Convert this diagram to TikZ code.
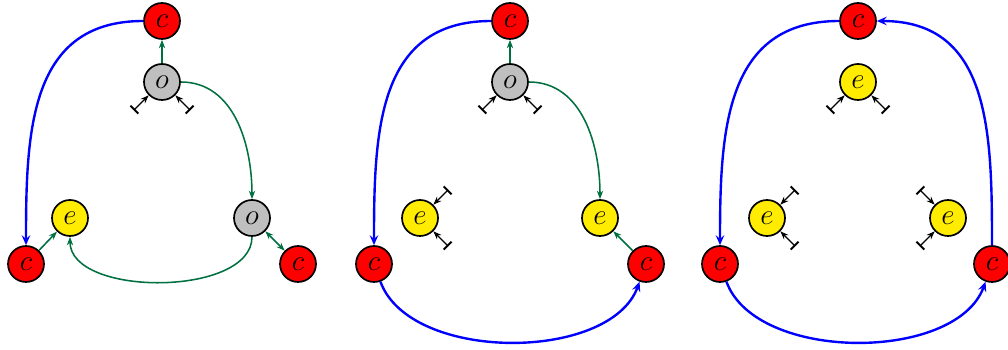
\documentclass[tikz,border=0pt]{standalone}
\usepackage{amsmath}
\usepackage{xcolor}
\definecolor{ccred}{RGB}{255,0,0}
\definecolor{eeyellow}{RGB}{255,236,0}
\definecolor{oogray}{RGB}{191,191,191}
\definecolor{flowgreen}{RGB}{0,112,64}
\definecolor{flowblue}{RGB}{0,0,255}
\usepackage{tikz}
\usetikzlibrary{arrows.meta}

\tikzset{
  site/.style={circle, draw=black, line width=1.2pt, minimum size=0.9cm, inner sep=0pt, font=\fontsize{20}{22}\selectfont},
  csite/.style={site, fill=ccred},
  esite/.style={site, fill=eeyellow},
  osite/.style={site, fill=oogray},
  gflow/.style={draw=flowgreen, line width=1.1pt, -{Stealth[length=6pt,width=4.5pt,inset=2pt]}},
  gboth/.style={draw=flowgreen, line width=1.1pt, {Stealth[length=6pt,width=4.5pt,inset=2pt]}-{Stealth[length=6pt,width=4.5pt,inset=2pt]}},
  bflow/.style={draw=flowblue, line width=1.7pt, -{Stealth[length=7pt,width=6pt,inset=2.5pt]}},
  feed/.style={draw=black, line width=0.9pt, {Bar[width=8pt,line width=1.3pt]}-{Stealth[length=6pt,width=4.5pt,inset=2pt]}}
}

\begin{document}
\begin{tikzpicture}
  \useasboundingbox (0,0) rectangle (25.2,8.75);

  % --- Panel 1: two o sites ---
  \node[csite] (c1t) at (4.05,8.225) {$c$};
  \node[osite] (o1t) at (4.05,6.70) {$o$};
  \node[osite] (o1r) at (6.3,3.30) {$o$};
  \node[esite] (e1l) at (1.75,3.30) {$e$};
  \node[csite] (c1l) at (0.65,2.15) {$c$};
  \node[csite] (c1r) at (7.45,2.15) {$c$};

  \draw[bflow] (c1t) to[out=180, in=90, looseness=1.15] (c1l);
  \draw[gflow] (o1t) -- (c1t);
  \draw[gflow] (o1t) to[out=0, in=90] (o1r);
  \draw[gflow] (o1r) to[out=-90, in=-90, looseness=0.85] (e1l);
  \draw[gflow] (c1l) -- (e1l);
  \draw[gboth] (o1r) -- (c1r);

  \coordinate (b1a) at ([shift={(225:1.0)}]o1t);
  \coordinate (b1b) at ([shift={(-45:1.0)}]o1t);
  \draw[feed] (b1a) -- (o1t);
  \draw[feed] (b1b) -- (o1t);

  % --- Panel 2: one o site ---
  \begin{scope}[xshift=8.7cm]
    \node[csite] (c2t) at (4.05,8.225) {$c$};
    \node[osite] (o2t) at (4.05,6.70) {$o$};
    \node[esite] (e2r) at (6.3,3.30) {$e$};
    \node[esite] (e2l) at (1.8,3.30) {$e$};
    \node[csite] (c2l) at (0.65,2.15) {$c$};
    \node[csite] (c2r) at (7.45,2.15) {$c$};

    \draw[bflow] (c2t) to[out=180, in=90, looseness=1.15] (c2l);
    \draw[gflow] (o2t) -- (c2t);
    \draw[gflow] (o2t) to[out=0, in=90] (e2r);
    \draw[bflow] (c2l) to[out=-70, in=-110, looseness=0.85] (c2r);
    \draw[gflow] (c2r) -- (e2r);

    \coordinate (b2a) at ([shift={(225:1.0)}]o2t);
    \coordinate (b2b) at ([shift={(-45:1.0)}]o2t);
    \coordinate (b2c) at ([shift={(45:1.0)}]e2l);
    \coordinate (b2d) at ([shift={(-45:1.0)}]e2l);
    \draw[feed] (b2a) -- (o2t);
    \draw[feed] (b2b) -- (o2t);
    \draw[feed] (b2c) -- (e2l);
    \draw[feed] (b2d) -- (e2l);
  \end{scope}

  % --- Panel 3: no o site ---
  \begin{scope}[xshift=17.4cm]
    \node[csite] (c3t) at (4.05,8.225) {$c$};
    \node[esite] (e3t) at (4.05,6.70) {$e$};
    \node[esite] (e3r) at (6.3,3.30) {$e$};
    \node[esite] (e3l) at (1.775,3.30) {$e$};
    \node[csite] (c3l) at (0.6,2.15) {$c$};
    \node[csite] (c3r) at (7.4,2.15) {$c$};

    \draw[bflow] (c3t) to[out=180, in=90, looseness=1.15] (c3l);
    \draw[bflow] (c3r) to[out=90, in=0, looseness=1.15] (c3t);
    \draw[bflow] (c3l) to[out=-70, in=-110, looseness=0.85] (c3r);

    \coordinate (b3a) at ([shift={(225:1.0)}]e3t);
    \coordinate (b3b) at ([shift={(-45:1.0)}]e3t);
    \coordinate (b3c) at ([shift={(45:1.0)}]e3l);
    \coordinate (b3d) at ([shift={(-45:1.0)}]e3l);
    \coordinate (b3e) at ([shift={(135:1.0)}]e3r);
    \coordinate (b3f) at ([shift={(225:1.0)}]e3r);
    \draw[feed] (b3a) -- (e3t);
    \draw[feed] (b3b) -- (e3t);
    \draw[feed] (b3c) -- (e3l);
    \draw[feed] (b3d) -- (e3l);
    \draw[feed] (b3e) -- (e3r);
    \draw[feed] (b3f) -- (e3r);
  \end{scope}
\end{tikzpicture}
\end{document}
